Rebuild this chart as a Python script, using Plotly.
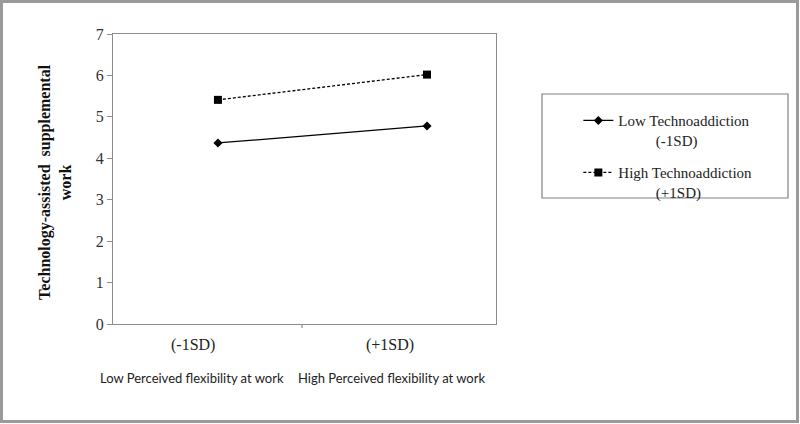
import plotly.graph_objects as go

categories = ["(-1SD)", "(+1SD)"]
group_labels = ["Low Perceived flexibility at work", "High Perceived flexibility at work"]
low_techno = [4.37, 4.78]
high_techno = [5.41, 6.02]
pad = "\u00a0" * 10
series_names = ["Low Technoaddiction<br>" + pad + "(-1SD)",
                "High Technoaddiction<br>" + pad + "(+1SD)"]
y_ticks = [0, 1, 2, 3, 4, 5, 6, 7]

serif = "Liberation Serif, Times New Roman, serif"
gray = "#8c8c8c"

fig = go.Figure()
fig.add_trace(go.Scatter(
    x=categories, y=low_techno, mode="lines+markers", name=series_names[0],
    legendgroup="a",
    line=dict(color="black", width=1.3),
    marker=dict(symbol="diamond", size=7, color="black"),
))
fig.add_trace(go.Scatter(
    x=categories, y=high_techno, mode="lines+markers", name=series_names[1],
    legendgroup="b",
    line=dict(color="black", width=1.3, dash="3px,2px"),
    marker=dict(symbol="square", size=8, color="black"),
))

fig.update_layout(
    width=800, height=424,
    margin=dict(l=113, r=304, t=34, b=100),
    paper_bgcolor="white", plot_bgcolor="white",
    showlegend=True,
    legend=dict(
        x=1.215, y=0.758, xanchor="left", yanchor="top",
        bgcolor="rgba(0,0,0,0)", borderwidth=0,
        font=dict(family=serif, size=15, color="#222"),
        valign="top", traceorder="grouped", tracegroupgap=10,
        itemwidth=30,
    ),
    xaxis=dict(
        type="category", range=[-0.502, 1.330],
        showticklabels=False, ticks="", showgrid=False, zeroline=False,
        showline=True, linecolor=gray, linewidth=1.2, mirror=True,
    ),
    yaxis=dict(
        range=[0, 7], tickvals=y_ticks, ticks="outside", ticklen=5,
        tickcolor=gray, showgrid=False, zeroline=False,
        showline=True, linecolor=gray, linewidth=1.2, mirror=True,
        tickfont=dict(family=serif, size=16, color="#333"),
    ),
)

shapes = []
# outer frame
shapes.append(dict(type="rect", xref="paper", yref="paper",
                   x0=(1.5 - 113) / 383, x1=(797.5 - 113) / 383,
                   y0=(324 - 421.5) / 290, y1=(324 - 1.5) / 290,
                   line=dict(color="#9a9a9a", width=3)))
# legend box
shapes.append(dict(type="rect", xref="paper", yref="paper",
                   x0=(542 - 113) / 383, x1=(788 - 113) / 383,
                   y0=(324 - 198) / 290, y1=(324 - 94) / 290,
                   line=dict(color="#808080", width=1.2)))
# middle tick on x axis
shapes.append(dict(type="line", xref="paper", yref="paper",
                   x0=(302 - 113) / 383, x1=(302 - 113) / 383,
                   y0=0, y1=-4 / 290, line=dict(color=gray, width=1.2)))
fig.update_layout(shapes=shapes)

cat_px = [193, 390]
grp_px = [192, 391]
for i, c in enumerate(categories):
    fig.add_annotation(text=c, xref="paper", yref="paper",
                       x=(cat_px[i] - 113) / 383, y=(324 - 345) / 290,
                       xanchor="center", yanchor="middle", showarrow=False,
                       font=dict(family=serif, size=16, color="#222"))
    fig.add_annotation(text=group_labels[i], xref="paper", yref="paper",
                       x=(grp_px[i] - 113) / 383, y=(324 - 378) / 290,
                       xanchor="center", yanchor="middle", showarrow=False,
                       font=dict(family="Lato, sans-serif", size=13, color="#222"))

fig.add_annotation(text="<b>Technology-assisted  supplemental<br>work</b>",
                   xref="paper", yref="paper", x=(55 - 113) / 383, y=0.49,
                   xanchor="center", yanchor="middle", showarrow=False,
                   textangle=-90,
                   font=dict(family=serif, size=16, color="#111"))

fig.write_html("out.html")
